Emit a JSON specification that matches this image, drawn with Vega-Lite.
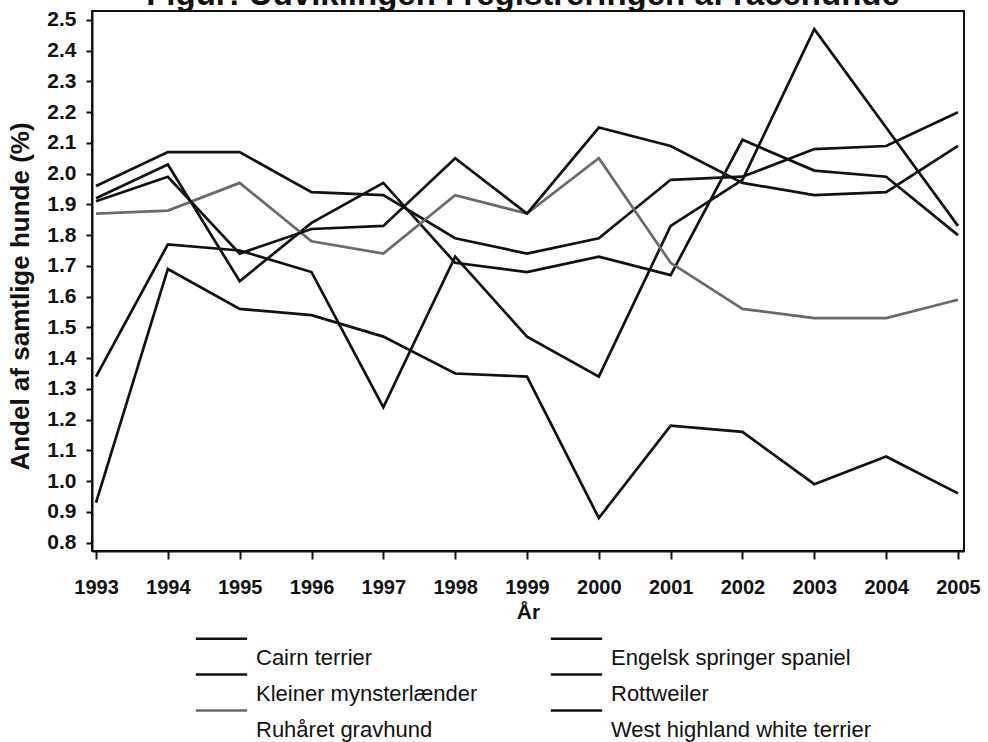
{
  "$schema": "https://vega.github.io/schema/vega-lite/v6.json",
  "autosize": "none",
  "width": 872,
  "height": 540,
  "padding": {"left": 92, "top": 11, "right": 24, "bottom": 191},
  "background": "white",
  "title": {"text": "Figur: Udviklingen i registreringen af racehunde", "fontSize": 33, "fontWeight": "bold", "font": "Liberation Sans", "color": "#111", "baseline": "bottom", "offset": 3, "anchor": "middle", "dx": -5, "dy": 39},
  "config": {
    "font": "Liberation Sans",
    "view": {"stroke": "#111", "strokeWidth": 2},
    "axis": {"labelFont": "Liberation Sans", "titleFont": "Liberation Sans", "labelColor": "#111", "titleColor": "#111", "domainColor": "#111", "tickColor": "#111", "domainWidth": 2, "tickWidth": 2, "grid": false}
  },
  "data": {"values": [
    {"breed": "Cairn terrier", "year": 1993, "value": 1.34},
    {"breed": "Cairn terrier", "year": 1994, "value": 1.77},
    {"breed": "Cairn terrier", "year": 1995, "value": 1.75},
    {"breed": "Cairn terrier", "year": 1996, "value": 1.68},
    {"breed": "Cairn terrier", "year": 1997, "value": 1.24},
    {"breed": "Cairn terrier", "year": 1998, "value": 1.73},
    {"breed": "Cairn terrier", "year": 1999, "value": 1.47},
    {"breed": "Cairn terrier", "year": 2000, "value": 1.34},
    {"breed": "Cairn terrier", "year": 2001, "value": 1.83},
    {"breed": "Cairn terrier", "year": 2002, "value": 1.98},
    {"breed": "Cairn terrier", "year": 2003, "value": 2.47},
    {"breed": "Cairn terrier", "year": 2004, "value": 2.15},
    {"breed": "Cairn terrier", "year": 2005, "value": 1.83},
    {"breed": "Engelsk springer spaniel", "year": 1993, "value": 1.96},
    {"breed": "Engelsk springer spaniel", "year": 1994, "value": 2.07},
    {"breed": "Engelsk springer spaniel", "year": 1995, "value": 2.07},
    {"breed": "Engelsk springer spaniel", "year": 1996, "value": 1.94},
    {"breed": "Engelsk springer spaniel", "year": 1997, "value": 1.93},
    {"breed": "Engelsk springer spaniel", "year": 1998, "value": 1.79},
    {"breed": "Engelsk springer spaniel", "year": 1999, "value": 1.74},
    {"breed": "Engelsk springer spaniel", "year": 2000, "value": 1.79},
    {"breed": "Engelsk springer spaniel", "year": 2001, "value": 1.98},
    {"breed": "Engelsk springer spaniel", "year": 2002, "value": 1.99},
    {"breed": "Engelsk springer spaniel", "year": 2003, "value": 2.08},
    {"breed": "Engelsk springer spaniel", "year": 2004, "value": 2.09},
    {"breed": "Engelsk springer spaniel", "year": 2005, "value": 2.2},
    {"breed": "Kleiner mynsterlænder", "year": 1993, "value": 0.93},
    {"breed": "Kleiner mynsterlænder", "year": 1994, "value": 1.69},
    {"breed": "Kleiner mynsterlænder", "year": 1995, "value": 1.56},
    {"breed": "Kleiner mynsterlænder", "year": 1996, "value": 1.54},
    {"breed": "Kleiner mynsterlænder", "year": 1997, "value": 1.47},
    {"breed": "Kleiner mynsterlænder", "year": 1998, "value": 1.35},
    {"breed": "Kleiner mynsterlænder", "year": 1999, "value": 1.34},
    {"breed": "Kleiner mynsterlænder", "year": 2000, "value": 0.88},
    {"breed": "Kleiner mynsterlænder", "year": 2001, "value": 1.18},
    {"breed": "Kleiner mynsterlænder", "year": 2002, "value": 1.16},
    {"breed": "Kleiner mynsterlænder", "year": 2003, "value": 0.99},
    {"breed": "Kleiner mynsterlænder", "year": 2004, "value": 1.08},
    {"breed": "Kleiner mynsterlænder", "year": 2005, "value": 0.96},
    {"breed": "Rottweiler", "year": 1993, "value": 1.92},
    {"breed": "Rottweiler", "year": 1994, "value": 2.03},
    {"breed": "Rottweiler", "year": 1995, "value": 1.65},
    {"breed": "Rottweiler", "year": 1996, "value": 1.84},
    {"breed": "Rottweiler", "year": 1997, "value": 1.97},
    {"breed": "Rottweiler", "year": 1998, "value": 1.71},
    {"breed": "Rottweiler", "year": 1999, "value": 1.68},
    {"breed": "Rottweiler", "year": 2000, "value": 1.73},
    {"breed": "Rottweiler", "year": 2001, "value": 1.67},
    {"breed": "Rottweiler", "year": 2002, "value": 2.11},
    {"breed": "Rottweiler", "year": 2003, "value": 2.01},
    {"breed": "Rottweiler", "year": 2004, "value": 1.99},
    {"breed": "Rottweiler", "year": 2005, "value": 1.8},
    {"breed": "Ruhåret gravhund", "year": 1993, "value": 1.87},
    {"breed": "Ruhåret gravhund", "year": 1994, "value": 1.88},
    {"breed": "Ruhåret gravhund", "year": 1995, "value": 1.97},
    {"breed": "Ruhåret gravhund", "year": 1996, "value": 1.78},
    {"breed": "Ruhåret gravhund", "year": 1997, "value": 1.74},
    {"breed": "Ruhåret gravhund", "year": 1998, "value": 1.93},
    {"breed": "Ruhåret gravhund", "year": 1999, "value": 1.87},
    {"breed": "Ruhåret gravhund", "year": 2000, "value": 2.05},
    {"breed": "Ruhåret gravhund", "year": 2001, "value": 1.71},
    {"breed": "Ruhåret gravhund", "year": 2002, "value": 1.56},
    {"breed": "Ruhåret gravhund", "year": 2003, "value": 1.53},
    {"breed": "Ruhåret gravhund", "year": 2004, "value": 1.53},
    {"breed": "Ruhåret gravhund", "year": 2005, "value": 1.59},
    {"breed": "West highland white terrier", "year": 1993, "value": 1.91},
    {"breed": "West highland white terrier", "year": 1994, "value": 1.99},
    {"breed": "West highland white terrier", "year": 1995, "value": 1.74},
    {"breed": "West highland white terrier", "year": 1996, "value": 1.82},
    {"breed": "West highland white terrier", "year": 1997, "value": 1.83},
    {"breed": "West highland white terrier", "year": 1998, "value": 2.05},
    {"breed": "West highland white terrier", "year": 1999, "value": 1.87},
    {"breed": "West highland white terrier", "year": 2000, "value": 2.15},
    {"breed": "West highland white terrier", "year": 2001, "value": 2.09},
    {"breed": "West highland white terrier", "year": 2002, "value": 1.97},
    {"breed": "West highland white terrier", "year": 2003, "value": 1.93},
    {"breed": "West highland white terrier", "year": 2004, "value": 1.94},
    {"breed": "West highland white terrier", "year": 2005, "value": 2.09}
  ]},
  "mark": {"type": "line", "strokeWidth": 2.7, "clip": true},
  "encoding": {
    "x": {"field": "year", "type": "quantitative",
      "scale": {"domain": [1992.944, 2005.084], "nice": false, "zero": false},
      "axis": {"values": [1993,1994,1995,1996,1997,1998,1999,2000,2001,2002,2003,2004,2005], "format": "d", "title": "År", "labelFontSize": 20, "labelFontWeight": "bold", "tickSize": 8, "labelPadding": 18, "titleFontSize": 21, "titleFontWeight": "bold", "titlePadding": 4}},
    "y": {"field": "value", "type": "quantitative",
      "scale": {"domain": [0.7727, 2.529], "nice": false, "zero": false},
      "axis": {"values": [0.8,0.9,1.0,1.1,1.2,1.3,1.4,1.5,1.6,1.7,1.8,1.9,2.0,2.1,2.2,2.3,2.4,2.5], "format": ".1f", "title": "Andel af samtlige hunde (%)", "labelFontSize": 21, "labelFontWeight": "bold", "tickSize": 6, "labelPadding": 10, "titleFontSize": 26, "titleFontWeight": "bold", "titlePadding": 13, "titleY": 285}},
    "color": {"field": "breed", "type": "nominal",
      "scale": {"domain": ["Cairn terrier", "Kleiner mynsterlænder", "Ruhåret gravhund", "Engelsk springer spaniel", "Rottweiler", "West highland white terrier"], "range": ["#111", "#111", "#6a6a6a", "#111", "#111", "#111"]},
      "legend": {"orient": "none", "legendX": 109, "legendY": 626, "columns": 2, "title": null, "symbolType": "M-1.35,-1H1.35", "symbolSize": 1444, "symbolStrokeWidth": 2.5, "labelFontSize": 22, "labelFont": "Liberation Sans", "labelColor": "#111", "labelBaseline": "middle", "labelOffset": 14, "columnPadding": 67, "rowPadding": 0, "labelLimit": 400}}
  }
}
